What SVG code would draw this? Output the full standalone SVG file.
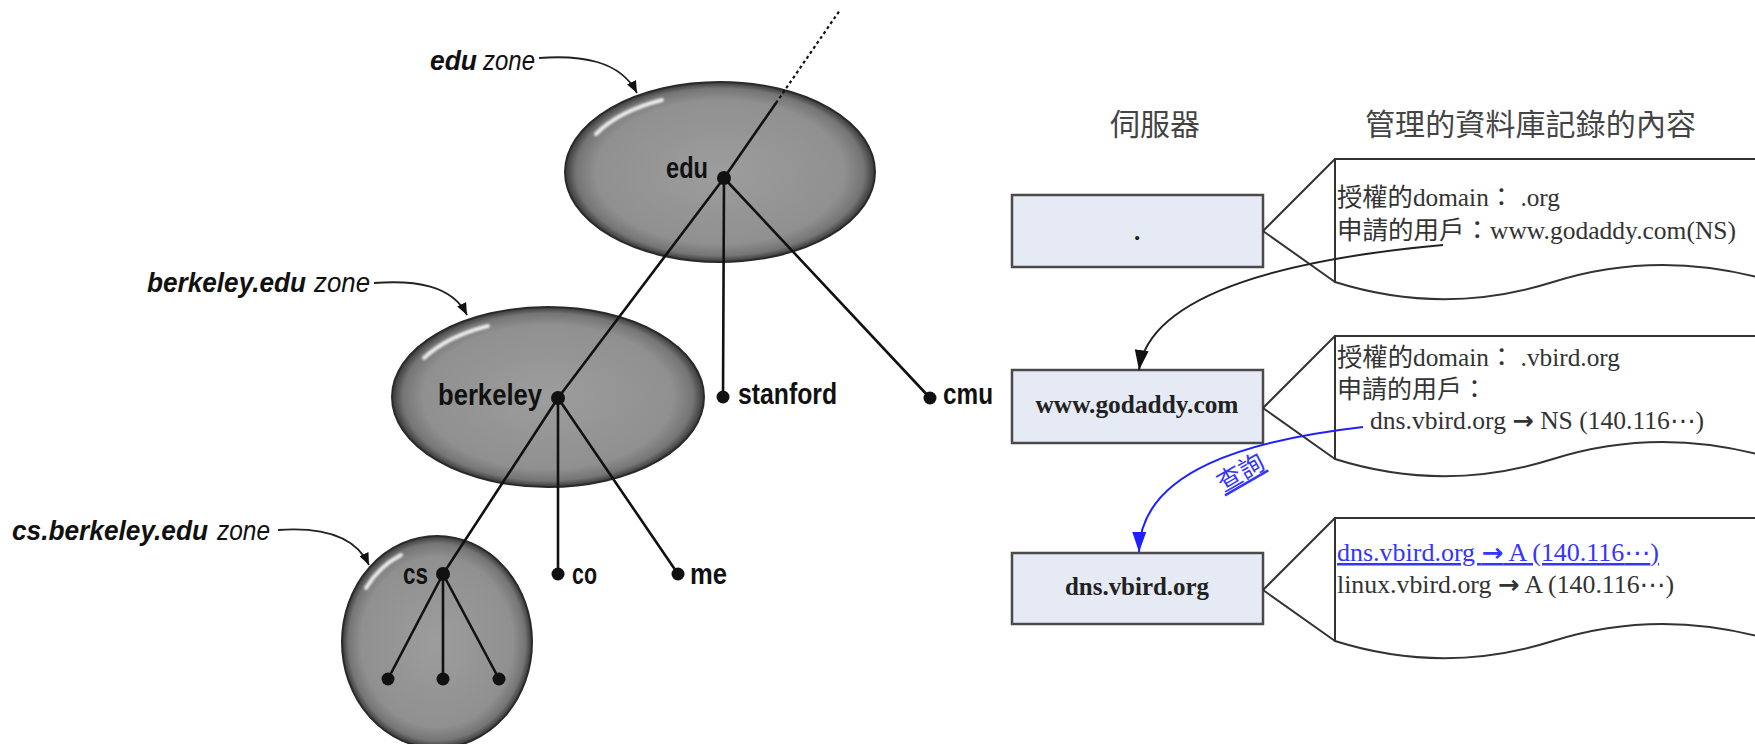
<svg xmlns="http://www.w3.org/2000/svg" xmlns:xlink="http://www.w3.org/1999/xlink" width="1755" height="744" viewBox="0 0 1755 744">
<style>
.edge{stroke:#111;stroke-width:2.6;fill:none;stroke-linecap:round}
.dash{stroke:#111;stroke-width:2.2;fill:none;stroke-dasharray:3 3}
.ptr{stroke:#222;stroke-width:1.8;fill:none}
.dot{fill:#111}
.tl{font-family:"Liberation Sans",Arial,sans-serif;font-weight:bold;font-size:29px;fill:#111}
.zl{font-family:"Liberation Sans",Arial,sans-serif;font-style:italic;font-size:28px;fill:#111}
.zb{font-weight:bold}
.zone{fill:url(#zoneFill);stroke:#2a2a2a;stroke-width:2}
.hl{fill:none;stroke:#fff;stroke-width:4;stroke-linecap:round;opacity:.85;filter:url(#soft)}
.srv{fill:#e6eaf5;stroke:#4a4a4a;stroke-width:2.5}
.doc{fill:#fff;stroke:#333;stroke-width:2}
.st{font-family:"Liberation Serif","Times New Roman",serif;font-weight:bold;font-size:25px;fill:#222;text-anchor:middle}
.rt{font-family:"Liberation Serif","Times New Roman","Noto Sans CJK TC","DejaVu Sans",serif;font-size:25px;fill:#333}
.ar{font-family:"DejaVu Sans",sans-serif;font-weight:bold}
.el{font-family:"DejaVu Sans",sans-serif}
.blue{fill:#3535ff;text-decoration:underline}
.hd{font-family:"Noto Sans CJK TC",sans-serif;font-size:30px;fill:#444}
.arrowB{stroke:#222;stroke-width:2;fill:none}
.arrowQ{stroke:#2020ff;stroke-width:2;fill:none}
</style>
<defs>
<radialGradient id="zoneFill" cx="50%" cy="50%" r="50%">
<stop offset="0" stop-color="#9d9d9d"/>
<stop offset="0.8" stop-color="#909090"/>
<stop offset="0.93" stop-color="#757575"/>
<stop offset="1" stop-color="#383838"/>
</radialGradient>
<filter id="soft" x="-20%" y="-20%" width="140%" height="140%"><feGaussianBlur stdDeviation="1.2"/></filter>
<marker id="pt" viewBox="0 0 12 10" refX="12" refY="5" markerWidth="12" markerHeight="10" orient="auto" markerUnits="userSpaceOnUse"><path d="M0,0 L12,5 L0,10 z" fill="#111"/></marker>
<marker id="ahB" viewBox="0 0 20 14" refX="20" refY="7" markerWidth="20" markerHeight="14" orient="auto" markerUnits="userSpaceOnUse"><path d="M0,0 L20,7 L0,14 z" fill="#111"/></marker>
<marker id="ahQ" viewBox="0 0 20 14" refX="20" refY="7" markerWidth="20" markerHeight="14" orient="auto" markerUnits="userSpaceOnUse"><path d="M0,0 L20,7 L0,14 z" fill="#2020ff"/></marker>
<g id="docShape">
<path class="doc" d="M0 0 H440 V123 C363 100 291 100 218 123 C145 146 73 146 0 123 Z"/>
<path d="M-72 72 L0 0 M-72 72 L0 123" fill="none" stroke="#333" stroke-width="2"/>
</g>
</defs>
<rect width="1755" height="744" fill="#fff"/>

<!-- zones -->
<g id="zone-cs">
<ellipse class="zone" cx="437" cy="642" rx="95" ry="106"/>
<path class="hl" d="M366 588 A86 96 0 0 1 401 555"/>
</g>
<g id="zone-berkeley">
<ellipse class="zone" cx="548" cy="397" rx="156" ry="90"/>
<path class="hl" d="M424 358 A143 80 0 0 1 488 326"/>
</g>
<g id="zone-edu">
<ellipse class="zone" cx="720" cy="172" rx="155" ry="90"/>
<path class="hl" d="M596 134 A143 80 0 0 1 662 100"/>
</g>

<!-- zone labels -->
<g id="label-edu-zone">
<text class="zl" y="70"><tspan class="zb" x="430" textLength="47" lengthAdjust="spacingAndGlyphs">edu</tspan><tspan x="483" textLength="52" lengthAdjust="spacingAndGlyphs">zone</tspan></text>
</g>
<g id="label-berkeley-zone">
<text class="zl" y="292"><tspan class="zb" x="147" textLength="159" lengthAdjust="spacingAndGlyphs">berkeley.edu</tspan><tspan x="314" textLength="56" lengthAdjust="spacingAndGlyphs">zone</tspan></text>
</g>
<g id="label-cs-zone">
<text class="zl" y="540"><tspan class="zb" x="12" textLength="196" lengthAdjust="spacingAndGlyphs">cs.berkeley.edu</tspan><tspan x="217" textLength="53" lengthAdjust="spacingAndGlyphs">zone</tspan></text>
</g>

<!-- tree nodes -->
<g id="node-edu"><circle class="dot" cx="724" cy="178" r="7"/><text class="tl" x="666" y="178" textLength="42" lengthAdjust="spacingAndGlyphs">edu</text></g>
<g id="node-berkeley"><circle class="dot" cx="558" cy="398" r="7"/><text class="tl" x="438" y="405" textLength="104" lengthAdjust="spacingAndGlyphs">berkeley</text></g>
<g id="node-stanford"><circle class="dot" cx="723" cy="397" r="6.5"/><text class="tl" x="738" y="404" textLength="99" lengthAdjust="spacingAndGlyphs">stanford</text></g>
<g id="node-cmu"><circle class="dot" cx="930" cy="398" r="6.5"/><text class="tl" x="943" y="404" textLength="50" lengthAdjust="spacingAndGlyphs">cmu</text></g>
<g id="node-cs"><circle class="dot" cx="443" cy="574" r="7"/><text class="tl" x="403" y="584" textLength="25" lengthAdjust="spacingAndGlyphs">cs</text></g>
<g id="node-co"><circle class="dot" cx="558" cy="574" r="6.5"/><text class="tl" x="572" y="584" textLength="25" lengthAdjust="spacingAndGlyphs">co</text></g>
<g id="node-me"><circle class="dot" cx="678" cy="574" r="6.5"/><text class="tl" x="690" y="584" textLength="37" lengthAdjust="spacingAndGlyphs">me</text></g>
<g id="node-cs-leaf1"><circle class="dot" cx="388" cy="679" r="6.5"/></g>
<g id="node-cs-leaf2"><circle class="dot" cx="443" cy="679" r="6.5"/></g>
<g id="node-cs-leaf3"><circle class="dot" cx="499" cy="679" r="6.5"/></g>

<!-- right side -->
<g id="header-server"><text class="hd" x="1110" y="135">伺服器</text></g>
<g id="header-records"><text class="hd" x="1365" y="135" textLength="331">管理的資料庫記錄的內容</text></g>

<g id="server-root">
<rect class="srv" x="1012" y="195" width="251" height="72"/>
<text class="st" x="1137" y="240">.</text>
</g>
<g id="server-godaddy">
<rect class="srv" x="1012" y="370" width="251" height="73"/>
<text class="st" x="1137" y="413" textLength="203" lengthAdjust="spacingAndGlyphs">www.godaddy.com</text>
</g>
<g id="server-dns">
<rect class="srv" x="1012" y="553" width="251" height="71"/>
<text class="st" x="1137" y="595" textLength="144" lengthAdjust="spacingAndGlyphs">dns.vbird.org</text>
</g>

<g id="record-root">
<use xlink:href="#docShape" href="#docShape" transform="translate(1335,159)"/>
<text class="rt" x="1337" y="206" textLength="223" lengthAdjust="spacingAndGlyphs">授權的domain： .org</text>
<text class="rt" x="1337" y="239" textLength="399" lengthAdjust="spacingAndGlyphs">申請的用戶：www.godaddy.com(NS)</text>
</g>
<g id="record-godaddy">
<use xlink:href="#docShape" href="#docShape" transform="translate(1335,336)"/>
<text class="rt" x="1337" y="366" textLength="283" lengthAdjust="spacingAndGlyphs">授權的domain： .vbird.org</text>
<text class="rt" x="1337" y="398">申請的用戶：</text>
<text class="rt" x="1370" y="429" textLength="334" lengthAdjust="spacingAndGlyphs">dns.vbird.org <tspan class="ar">→</tspan> NS (140.116<tspan class="el">⋯</tspan>)</text>
</g>
<g id="record-dns">
<use xlink:href="#docShape" href="#docShape" transform="translate(1335,518)"/>
<text class="rt blue" x="1337" y="561" textLength="322" lengthAdjust="spacingAndGlyphs">dns.vbird.org <tspan class="ar">→</tspan> A (140.116<tspan class="el">⋯</tspan>)</text>
<text class="rt" x="1337" y="593" textLength="337" lengthAdjust="spacingAndGlyphs">linux.vbird.org <tspan class="ar">→</tspan> A (140.116<tspan class="el">⋯</tspan>)</text>
</g>

<!-- connectors -->
<g id="connectors">
<path class="dash" d="M776 103 L840 10"/>
<path class="edge" d="M724 178 L776 103"/>
<path class="edge" d="M724 178 L558 398"/>
<path class="edge" d="M724 178 L723 397"/>
<path class="edge" d="M724 178 L930 398"/>
<path class="edge" d="M558 398 L443 574"/>
<path class="edge" d="M558 398 L558 574"/>
<path class="edge" d="M558 398 L678 574"/>
<path class="edge" d="M443 574 L388 679"/>
<path class="edge" d="M443 574 L443 679"/>
<path class="edge" d="M443 574 L499 679"/>
<path class="ptr" d="M539 58 C580 55 620 60 637 93" marker-end="url(#pt)"/>
<path class="ptr" d="M374 283 C415 280 452 285 467 315" marker-end="url(#pt)"/>
<path class="ptr" d="M278 530 C320 527 355 535 369 565" marker-end="url(#pt)"/>
<path class="arrowB" d="M1443 245 C1300 258 1150 290 1139 370" marker-end="url(#ahB)"/>
<path class="arrowQ" d="M1363 427 C1250 440 1140 470 1139 552" marker-end="url(#ahQ)"/>
<text class="rt blue" font-size="22" text-anchor="middle" transform="translate(1245,480) rotate(-30)">查詢</text>
</g>
</svg>
